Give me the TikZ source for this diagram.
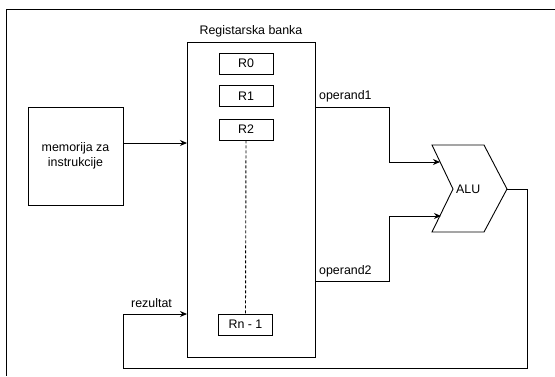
\documentclass[tikz,border=0pt]{standalone}
\usepackage{fontspec}
\setmainfont{Liberation Sans}
\usetikzlibrary{arrows.meta}
\begin{document}
\begin{tikzpicture}[x=1pt,y=-1pt,
  box/.style={draw, line width=0.9pt, inner sep=0pt, font=\fontsize{12.4}{14.5}\selectfont, align=center},
  reg/.style={box, minimum width=54pt, minimum height=21pt},
  lbl/.style={inner sep=0pt, font=\fontsize{12.4}{14.5}\selectfont},
  wire/.style={line width=0.9pt},
  arr/.style={wire, -{Stealth[length=7pt,width=6pt]}}]
\useasboundingbox (0,0) rectangle (555,376);
% outer frame (partially visible)
\coordinate (fA) at (555,9.5);
\coordinate (fB) at (6.5,9.5);
\coordinate (fC) at (6.5,376);
\draw[line width=1pt] (fA) -- (fB) -- (fC);
% register bank
\node[box, minimum width=128pt, minimum height=315pt] (bank) at (251,199.5) {};
\node[lbl, anchor=south] (title) at (251,37) {Registarska banka};
\node[reg] (r0) at (246,63.5) {R0};
\node[reg] (r1) at (246,96) {R1};
\node[reg] (r2) at (246,129.5) {R2};
\node[reg] (rn) at (245.5,324.5) {Rn - 1};
\draw[wire, dashed, dash pattern=on 3pt off 2pt] (r2.south) -- (rn.north);
% memory
\node[box, minimum width=95pt, minimum height=98pt] (mem) at (75.5,156) {memorija za\\instrukcije};
\coordinate (memout) at (123,143);
\coordinate (bankin1) at (187,143);
\draw[arr] (memout) -- (bankin1);
% ALU
\coordinate (a1) at (432,145);
\coordinate (a2) at (484,145);
\coordinate (a3) at (507,189);
\coordinate (a4) at (484,232);
\coordinate (a5) at (432,232);
\coordinate (a6) at (453,189);
\draw[line width=0.9pt] (a1) -- (a2) -- (a3) -- (a4) -- (a5) -- (a6) -- cycle;
\node[lbl, anchor=west] (alu) at (456,189) {ALU};
% operand1
\coordinate (o1s) at (315,107);
\coordinate (o1a) at (389,107);
\coordinate (o1b) at (389,162);
\coordinate (o1e) at (440,162);
\draw[arr] (o1s) -- (o1a) -- (o1b) -- (o1e);
\node[lbl, anchor=west] (lo1) at (319,96) {operand1};
% operand2
\coordinate (o2s) at (315,281);
\coordinate (o2a) at (389,281);
\coordinate (o2b) at (389,216);
\coordinate (o2e) at (441,216);
\draw[arr] (o2s) -- (o2a) -- (o2b) -- (o2e);
\node[lbl, anchor=west] (lo2) at (319,271) {operand2};
% result feedback
\coordinate (ra) at (527,189);
\coordinate (rb) at (527,368);
\coordinate (rc) at (123,368);
\coordinate (rd) at (123,314);
\coordinate (re) at (187,314);
\draw[arr] (a3) -- (ra) -- (rb) -- (rc) -- (rd) -- (re);
\node[lbl, anchor=west] (lres) at (131,303) {rezultat};
\end{tikzpicture}
\end{document}
